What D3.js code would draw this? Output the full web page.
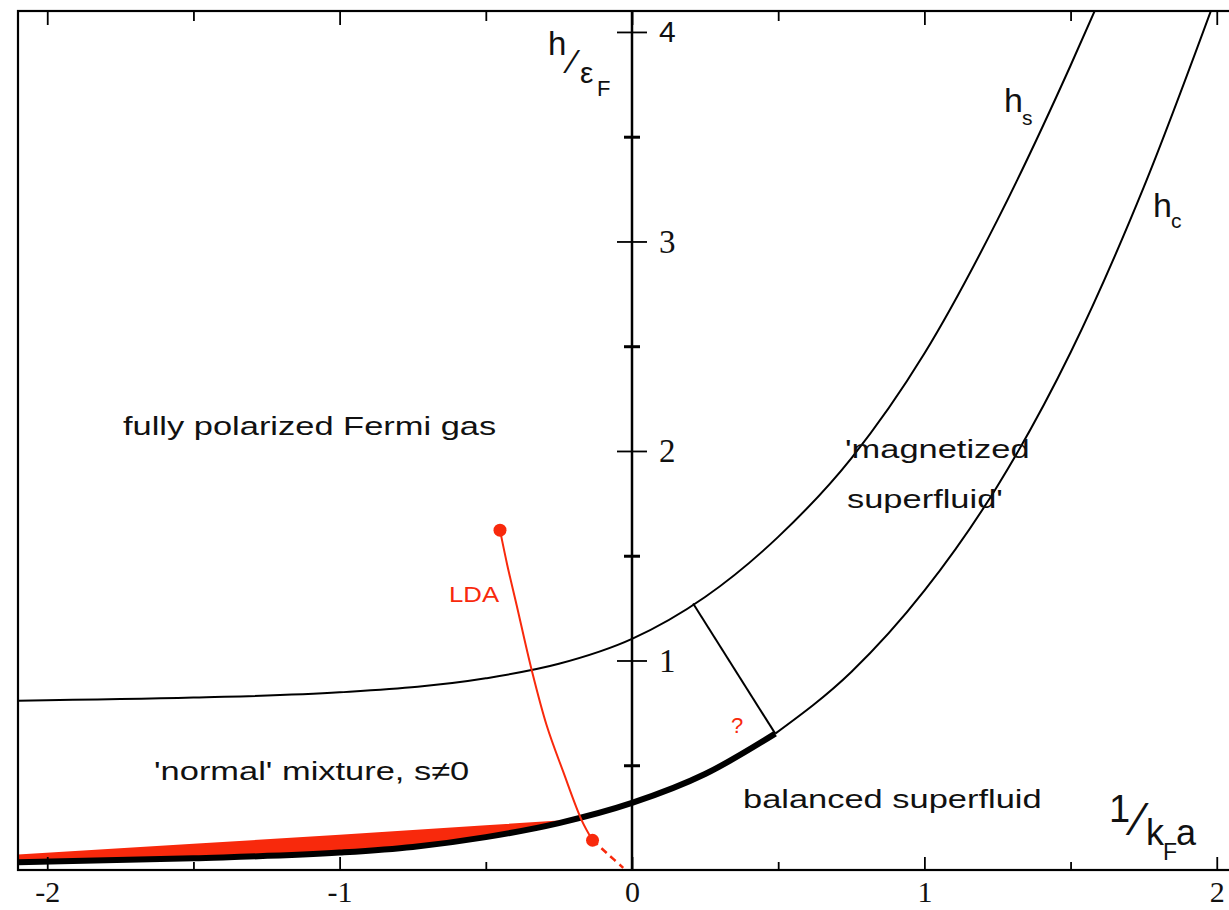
<!DOCTYPE html>
<html>
<head>
<meta charset="utf-8">
<script src="https://cdn.jsdelivr.net/npm/d3@7"></script>
<style>
  html, body { margin: 0; padding: 0; background: #fff; }
  svg { display: block; }
</style>
</head>
<body>
<svg id="chart" width="1229" height="910"></svg>
<script>
// Phase diagram: polarization field h/eF versus coupling 1/(kF a)

// tick values
const xMajorTicks = [-2, -1, 0, 1, 2];
const xMinorTicks = [-1.5, -0.5, 0.5, 1.5];
const yMajorTicks = [1, 2, 3, 4];
const yMinorTicks = [0.5, 1.5, 2.5, 3.5];

// h_s : boundary of the fully polarized gas
const hsX = [-2.1, -1.5, -1.0, -0.5, -0.25, 0, 0.25, 0.5, 0.75, 1.0, 1.25, 1.5, 1.584];
const hsY = [0.808, 0.823, 0.848, 0.915, 0.984, 1.103, 1.303, 1.59, 1.965, 2.465, 3.103, 3.84, 4.105];

// h_c : boundary of the balanced superfluid (first part drawn heavy)
const hcX = [-2.1, -1.5, -1.0, -0.75, -0.5, -0.25, 0, 0.25, 0.49, 0.75, 1.0, 1.25, 1.5, 1.75, 1.985];
const hcY = [0.037, 0.056, 0.083, 0.11, 0.157, 0.224, 0.32, 0.458, 0.651, 0.945, 1.333, 1.833, 2.47, 3.258, 4.12];
const hcHeavyEnd = 0.49;

// red band above the heavy part of h_c
const bandX = [-2.1, -1.5, -1.0, -0.5, -0.25];
const bandTop = [0.074, 0.125, 0.168, 0.214, 0.236];
const bandBottom = [0.037, 0.056, 0.083, 0.157, 0.224];

// LDA trajectory (solid) and its dashed continuation
const ldaX = [-0.4515, -0.4265, -0.3945, -0.343, -0.292, -0.235, -0.172, -0.135];
const ldaY = [1.622, 1.455, 1.264, 0.954, 0.691, 0.468, 0.237, 0.142];
const ldaDashX = [-0.135, -0.085, -0.03];
const ldaDashY = [0.142, 0.079, 0.01];

// segment closing the unknown region between h_s and h_c
const gapX = [0.209, 0.49];
const gapY = [1.272, 0.651];

const RED = "#f8290c";
const SANS = "'Liberation Sans', Arial, sans-serif";
const SERIF = "'Liberation Serif', 'Times New Roman', serif";

const svg = d3.select("#chart");
svg.append("rect").attr("width", 1229).attr("height", 910).attr("fill", "#fff");

const x = d3.scaleLinear().domain([-2.1, 2.1]).range([18, 1246]);
const y = d3.scaleLinear().domain([0, 4.1]).range([870, 11]);

const pts = (xs, ys) => xs.map((v, i) => [v, ys[i]]);
const line = d3.line().x(d => x(d[0])).y(d => y(d[1])).curve(d3.curveMonotoneX);

svg.append("clipPath").attr("id", "plot")
  .append("rect").attr("x", x(-2.1)).attr("y", y(4.1))
  .attr("width", x(2.1) - x(-2.1)).attr("height", y(0) - y(4.1));

const plot = svg.append("g").attr("clip-path", "url(#plot)");

// red band
const area = d3.area()
  .x((d, i) => x(bandX[i]))
  .y0((d, i) => y(bandBottom[i]))
  .y1((d, i) => y(bandTop[i]));
plot.append("path").datum(bandX).attr("d", area).attr("fill", RED);

// h_s
plot.append("path").datum(pts(hsX, hsY)).attr("d", line)
  .attr("fill", "none").attr("stroke", "#000").attr("stroke-width", 2);

// h_c, thin upper part then heavy lower part
const hc = pts(hcX, hcY);
plot.append("path").datum(hc.filter(d => d[0] >= hcHeavyEnd)).attr("d", line)
  .attr("fill", "none").attr("stroke", "#000").attr("stroke-width", 2);
plot.append("path").datum(hc.filter(d => d[0] <= hcHeavyEnd)).attr("d", line)
  .attr("fill", "none").attr("stroke", "#000").attr("stroke-width", 6);

// closing segment
plot.append("path").datum(pts(gapX, gapY))
  .attr("d", d3.line().x(d => x(d[0])).y(d => y(d[1])))
  .attr("fill", "none").attr("stroke", "#000").attr("stroke-width", 2);

// LDA path
const smooth = d3.line().x(d => x(d[0])).y(d => y(d[1])).curve(d3.curveCatmullRom);
plot.append("path").datum(pts(ldaX, ldaY)).attr("d", smooth)
  .attr("fill", "none").attr("stroke", RED).attr("stroke-width", 2);
plot.append("path").datum(pts(ldaDashX, ldaDashY)).attr("d", smooth)
  .attr("fill", "none").attr("stroke", RED).attr("stroke-width", 2.5)
  .attr("stroke-dasharray", "7,5");
const ends = [[ldaX[0], ldaY[0]], [ldaX[ldaX.length - 1], ldaY[ldaY.length - 1]]];
plot.selectAll("circle.end").data(ends).join("circle").attr("class", "end")
  .attr("cx", d => x(d[0])).attr("cy", d => y(d[1])).attr("r", 6.5).attr("fill", RED);

// frame
svg.append("rect").attr("x", x(-2.1)).attr("y", y(4.1))
  .attr("width", x(2.1) - x(-2.1)).attr("height", y(0) - y(4.1))
  .attr("fill", "none").attr("stroke", "#000").attr("stroke-width", 2.2);

// bottom axis: inward ticks, serif labels
const bottomMajor = svg.append("g").attr("transform", `translate(0,${y(0)})`)
  .call(d3.axisBottom(x).tickValues(xMajorTicks).tickSize(-13).tickPadding(11)
    .tickFormat(d => (d < 0 ? "-" + Math.abs(d) : String(d))));
const bottomMinor = svg.append("g").attr("transform", `translate(0,${y(0)})`)
  .call(d3.axisBottom(x).tickValues(xMinorTicks).tickSize(-8).tickFormat(""));
const topMajor = svg.append("g").attr("transform", `translate(0,${y(4.1)})`)
  .call(d3.axisTop(x).tickValues(xMajorTicks).tickSize(-14).tickFormat(""));
const topMinor = svg.append("g").attr("transform", `translate(0,${y(4.1)})`)
  .call(d3.axisTop(x).tickValues(xMinorTicks).tickSize(-10).tickFormat(""));
[bottomMajor, bottomMinor, topMajor, topMinor].forEach(g => {
  g.select(".domain").remove();
  g.selectAll(".tick line").attr("stroke", "#000").attr("stroke-width", 1.8);
});
bottomMajor.selectAll(".tick text")
  .attr("font-family", SERIF).attr("font-size", 30).attr("fill", "#111");

// vertical axis at 1/kFa = 0, ticks crossing it
const yAxisMajor = svg.append("g").attr("transform", `translate(${x(0)},0)`)
  .call(d3.axisRight(y).tickValues(yMajorTicks).tickSize(15).tickPadding(12).tickFormat(d3.format("d")));
const yAxisMinor = svg.append("g").attr("transform", `translate(${x(0)},0)`)
  .call(d3.axisRight(y).tickValues(yMinorTicks).tickSize(8).tickFormat(""));
yAxisMajor.select(".domain").remove();
yAxisMinor.select(".domain").remove();
yAxisMajor.selectAll(".tick line").attr("x1", -15).attr("stroke", "#000").attr("stroke-width", 1.8);
yAxisMinor.selectAll(".tick line").attr("x1", -8).attr("stroke", "#000").attr("stroke-width", 3);
yAxisMajor.selectAll(".tick text")
  .attr("font-family", d => (d === 4 ? SANS : SERIF))
  .attr("font-size", d => (d === 4 ? 30 : 33)).attr("fill", "#111");
svg.append("line").attr("x1", x(0)).attr("x2", x(0)).attr("y1", y(4.1)).attr("y2", y(0))
  .attr("stroke", "#000").attr("stroke-width", 2.5);

// wide sans lettering for region names
function label(px, py, str, size, opts = {}) {
  const sx = opts.sx || 1;
  return svg.append("text")
    .attr("transform", `translate(${px},${py}) scale(${sx},1)`)
    .attr("font-family", SANS)
    .attr("font-size", size)
    .attr("fill", opts.color || "#111")
    .text(str);
}

label(123, 435, "fully polarized Fermi gas", 26.5, { sx: 1.3 });
label(154, 780, "'normal' mixture, s\u22600", 26.5, { sx: 1.3 });
label(845, 458, "'magnetized", 26.5, { sx: 1.3 });
label(847, 508, "superfluid'", 26.5, { sx: 1.3 });
label(743, 808, "balanced superfluid", 26.5, { sx: 1.3 });
label(449, 602, "LDA", 23, { sx: 1.12, color: RED });
label(731, 733, "?", 22, { color: RED });

// composite labels: each piece is a tspan placed absolutely
function composite(parts) {
  const t = svg.append("text").attr("font-family", SANS).attr("fill", "#111");
  parts.forEach(p => {
    t.append("tspan").attr("x", p[1]).attr("y", p[2]).attr("font-size", p[3]).text(p[0]);
  });
  return t;
}

// curve names
composite([["h", 1004, 112, 34], ["s", 1022, 125, 21]]);
composite([["h", 1153, 217, 34], ["c", 1171, 228, 21]]);

// axis titles  h / eps_F   and   1 / kF a
composite([["h", 548, 55, 33], ["\u2044", 570, 73, 34], ["\u03b5", 580, 83, 30], ["F", 597, 96, 22]]);
composite([["1", 1109, 822, 38], ["\u2044", 1135, 835, 46], ["k", 1146, 845, 36], ["F", 1163, 860, 23], ["a", 1176, 845, 36]]);
</script>
</body>
</html>
